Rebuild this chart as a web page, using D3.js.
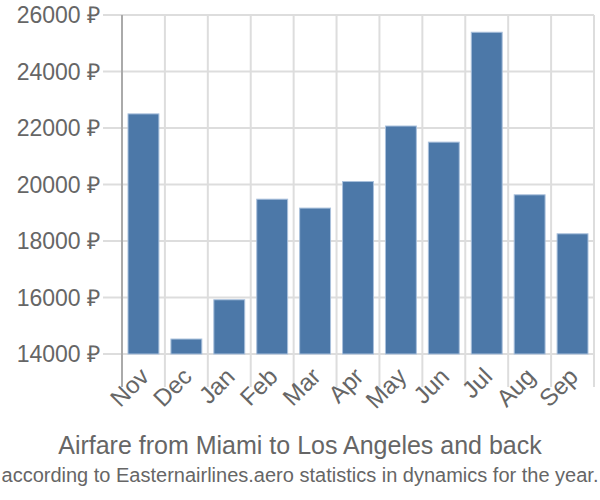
<!DOCTYPE html>
<html><head><meta charset="utf-8">
<script src="https://cdn.jsdelivr.net/npm/d3@7"></script>
<style>body{margin:0;background:#fff;} text{font-family:"Liberation Sans",Arial,sans-serif;}</style>
</head><body><svg id="c" width="600" height="500"></svg>
<script>
const months = ["Nov","Dec","Jan","Feb","Mar","Apr","May","Jun","Jul","Aug","Sep"];
const prices = [22500,14530,15920,19480,19165,20105,22070,21500,25390,19635,18255];
const yTicks = [14000,16000,18000,20000,22000,24000,26000];
const title = "Airfare from Miami to Los Angeles and back";
const subtitle = "according to Easternairlines.aero statistics in dynamics for the year.";

const svg = d3.select("#c");
const mLeft = 122, mRight = 594, mTop = 15, mBottom = 354;
const x = d3.scaleBand().domain(months).range([mLeft, mRight]).paddingInner(0.28).paddingOuter(0.14);
const y = d3.scaleLinear().domain([14000, 26000]).range([mBottom, mTop]);
const grid = "#dddddd";

svg.append("g").selectAll("line").data(yTicks).join("line")
  .attr("x1", 103).attr("x2", mRight).attr("y1", d => y(d)).attr("y2", d => y(d))
  .attr("stroke", grid).attr("stroke-width", 2);
const bounds = months.map(m => x(m) - x.step()*x.paddingInner()/2 ).concat([mRight]);
svg.append("g").selectAll("line").data(bounds.slice(1)).join("line")
  .attr("x1", d => d).attr("x2", d => d).attr("y1", mTop).attr("y2", 387)
  .attr("stroke", grid).attr("stroke-width", 2);
svg.append("line").attr("x1", mLeft).attr("x2", mLeft).attr("y1", mTop).attr("y2", 387)
  .attr("stroke", "#aaaaaa").attr("stroke-width", 2);

svg.append("g").selectAll("rect").data(prices).join("rect")
  .attr("x", (d,i) => x(months[i])).attr("width", x.bandwidth())
  .attr("y", d => y(d)).attr("height", d => y(14000) - y(d))
  .attr("fill", "#4c78a8").attr("stroke", "#a9c0dc").attr("stroke-width", 1);

svg.append("g").selectAll("text").data(yTicks).join("text")
  .attr("x", 100).attr("y", d => y(d)).attr("dy", "0.35em")
  .attr("text-anchor", "end").attr("fill", "#666").attr("font-size", 23)
  .text(d => d + " ₽");

svg.append("g").selectAll("text").data(months).join("text")
  .attr("transform", d => `translate(${x(d) + x.bandwidth()/2 + 7},${378}) rotate(-45)`)
  .attr("text-anchor", "end").attr("fill", "#666").attr("font-size", 24)
  .text(d => d);

svg.append("text").attr("x", 300).attr("y", 454).attr("text-anchor", "middle")
  .attr("fill", "#666").attr("font-size", 25).text(title);
svg.append("text").attr("x", 300).attr("y", 482).attr("text-anchor", "middle")
  .attr("fill", "#666").attr("font-size", 20).text(subtitle);
</script></body></html>
